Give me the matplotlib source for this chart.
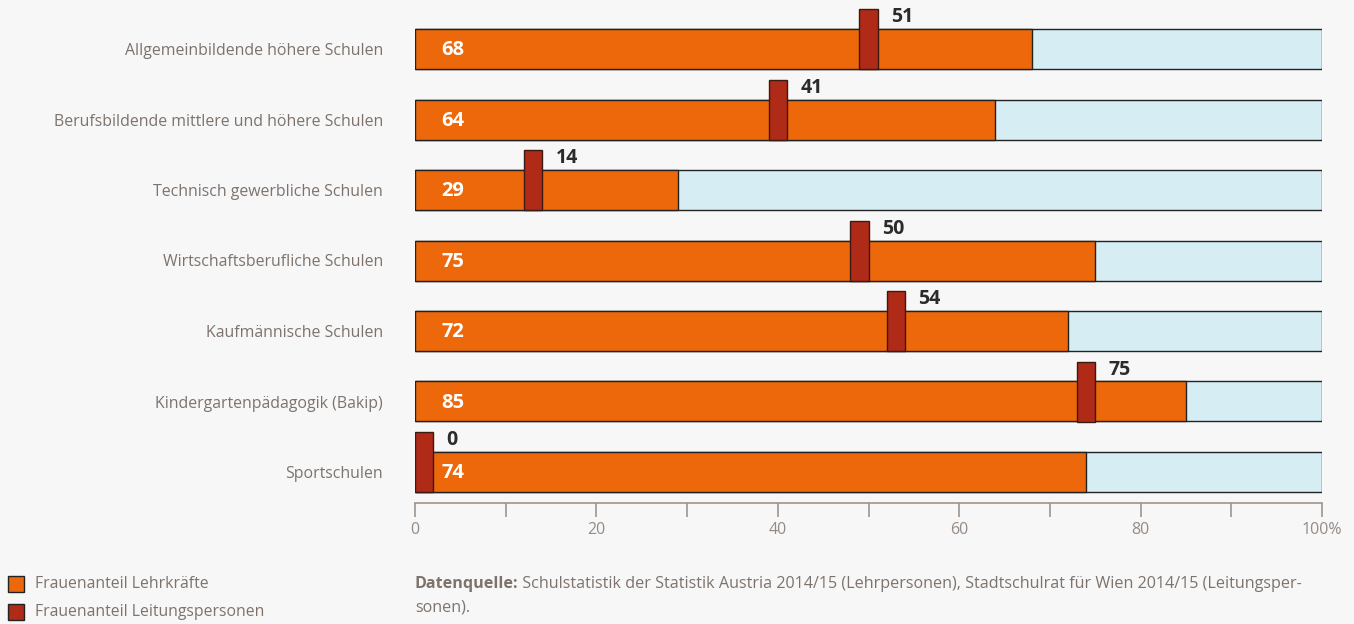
import matplotlib
matplotlib.use("Agg")
import matplotlib.pyplot as plt
import numpy as np
from matplotlib.patches import Rectangle

categories = [
    "Allgemeinbildende höhere Schulen",
    "Berufsbildende mittlere und höhere Schulen",
    "Technisch gewerbliche Schulen",
    "Wirtschaftsberufliche Schulen",
    "Kaufmännische Schulen",
    "Kindergartenpädagogik (Bakip)",
    "Sportschulen",
]
lehrkraefte = [68, 64, 29, 75, 72, 85, 74]
leitung = [51, 41, 14, 50, 54, 75, 0]
xticks = [0, 20, 40, 60, 80, 100]
xticklabels = ["0", "20", "40", "60", "80", "100%"]
legend_labels = ["Frauenanteil Lehrkräfte", "Frauenanteil Leitungspersonen"]
source_bold = "Datenquelle:"
source_line1 = " Schulstatistik der Statistik Austria 2014/15 (Lehrpersonen), Stadtschulrat für Wien 2014/15 (Leitungsper-"
source_line2 = "sonen)."

BG = "#f7f7f7"
ORANGE = "#ec680b"
RED = "#b02a18"
BLUE = "#d6edf4"
EDGE = "#222222"
GRAY = "#7d736c"
AXGRAY = "#9d948c"
FONT = "Open Sans"

W, H = 1354, 624
fig = plt.figure(figsize=(W / 100, H / 100), dpi=100, facecolor=BG)

# axes pixel geometry
ax_left, ax_right = 415, 1322
ax_top, ax_bottom = 0, 503
ax = fig.add_axes([ax_left / W, 1 - ax_bottom / H, (ax_right - ax_left) / W, (ax_bottom - ax_top) / H])
ax.set_facecolor(BG)

row0_px, step_px = 49, 70.5
n = len(categories)
ax.set_xlim(0, 100)
ax.set_ylim((ax_bottom - row0_px) / step_px, (ax_top - row0_px) / step_px)

ypos = np.arange(n)
bar_h = 40 / step_px
mark_h = 60 / step_px
mark_w = 2.0

ax.barh(ypos, [100] * n, height=bar_h, color=BLUE, edgecolor=EDGE, linewidth=1.0, zorder=1)
ax.barh(ypos, lehrkraefte, height=bar_h, color=ORANGE, edgecolor=EDGE, linewidth=1.0, zorder=2)

for y, lv, mv in zip(ypos, lehrkraefte, leitung):
    left = max(mv - mark_w, 0)
    bottom = y + bar_h / 2
    ax.add_patch(Rectangle((left, bottom), mark_w, -mark_h, facecolor=RED, edgecolor="#3a1a12",
                           linewidth=1.0, zorder=3))
    ax.text(4.2, y + 0.02, str(lv), ha="center", va="center", color="white", fontsize=14.5,
            fontweight="bold", family=FONT, zorder=4)
    ax.text(left + mark_w + 1.5, y - bar_h / 2 - 0.17, str(mv), ha="left", va="center", color="#2b2b2b",
            fontsize=14, fontweight="bold", family=FONT, zorder=4)

ax.set_yticks(ypos)
ax.set_yticklabels(categories, family=FONT, fontsize=11.4, color=GRAY)
ax.tick_params(axis="y", length=0, pad=23)

ax.set_xticks(xticks)
ax.set_xticklabels(xticklabels, family=FONT, fontsize=11.5, color="#958b84")
ax.set_xticks([10, 30, 50, 70, 90], minor=True)
ax.tick_params(axis="x", which="both", length=10, width=1.2, color=AXGRAY, pad=4)

for s in ["top", "right", "left"]:
    ax.spines[s].set_visible(False)
ax.spines["bottom"].set_color(AXGRAY)
ax.spines["bottom"].set_linewidth(1.2)

# legend
for i, (lab, col) in enumerate(zip(legend_labels, [ORANGE, RED])):
    yc = 584 + i * 28
    fig.patches.append(Rectangle((8 / W, 1 - (yc + 8) / H), 16 / W, 16 / H, transform=fig.transFigure,
                                 facecolor=col, edgecolor=EDGE, linewidth=1.0))
    fig.text(35 / W, 1 - yc / H, lab, ha="left", va="center", fontsize=11.3, color=GRAY, family=FONT)

# source
t = fig.text(ax_left / W, 1 - 584 / H, source_bold, ha="left", va="center", fontsize=11.6, color=GRAY,
             family=FONT, fontweight="bold")
fig.canvas.draw()
bb = t.get_window_extent()
fig.text(bb.x1 / W, 1 - 584 / H, source_line1, ha="left", va="center", fontsize=11.6, color=GRAY, family=FONT)
fig.text(ax_left / W, 1 - 607 / H, source_line2, ha="left", va="center", fontsize=11.6, color=GRAY, family=FONT)

fig.savefig("out.png", dpi=100, facecolor=BG)
